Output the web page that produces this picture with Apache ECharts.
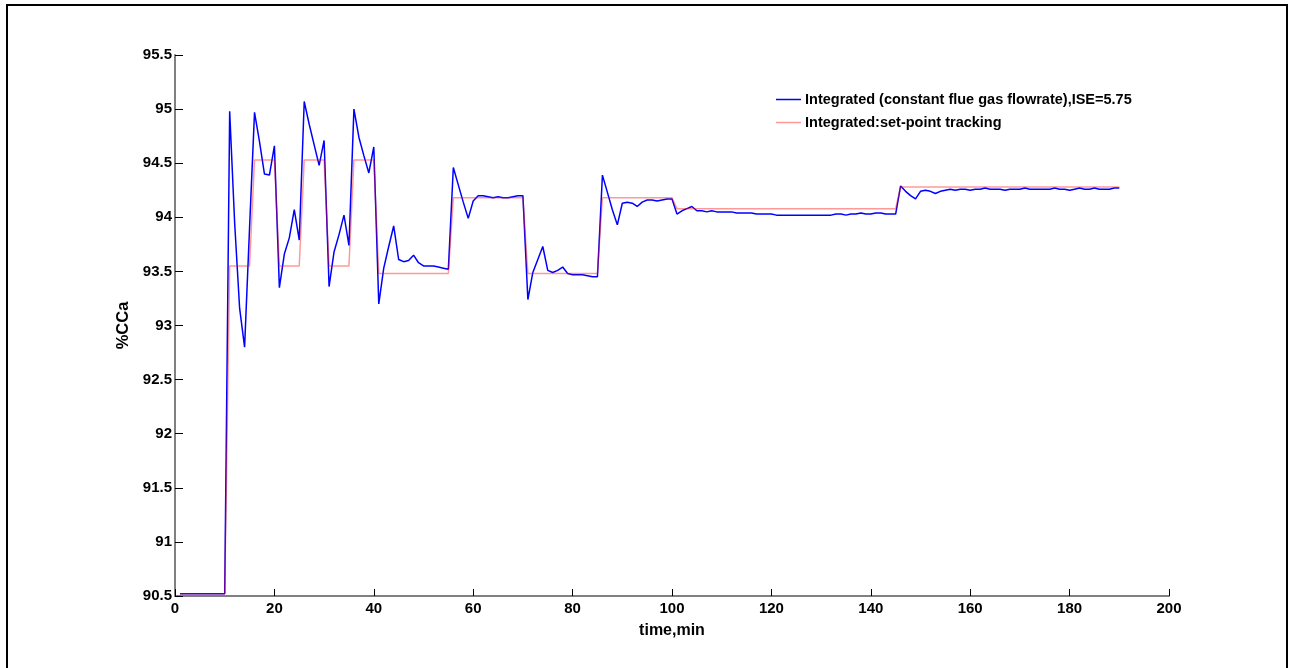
<!DOCTYPE html>
<html>
<head>
<meta charset="utf-8">
<script src="https://cdn.jsdelivr.net/npm/echarts@6/dist/echarts.min.js"></script>
<style>
html,body{margin:0;padding:0;background:#fff;}
#chart{width:1292px;height:668px;}
</style>
</head>
<body>
<div id="chart"></div>
<script>
// Measured %CCa, one sample per minute from t = 1 min
const integratedCCa = [
  90.52,90.52,90.52,90.52,90.52,90.52,90.52,90.52,90.52,90.52,
  94.98,93.95,93.16,92.80,93.90,94.97,94.70,94.40,94.39,94.66,
  93.35,93.66,93.81,94.07,93.79,95.07,94.86,94.67,94.48,94.71,
  93.36,93.68,93.84,94.02,93.74,95.00,94.74,94.57,94.41,94.65,
  93.20,93.53,93.73,93.92,93.61,93.59,93.60,93.65,93.58,93.55,
  93.55,93.55,93.54,93.53,93.52,94.46,94.30,94.14,93.99,94.15,
  94.20,94.20,94.19,94.18,94.19,94.18,94.18,94.19,94.20,94.20,
  93.24,93.49,93.61,93.73,93.51,93.49,93.51,93.54,93.48,93.47,
  93.47,93.47,93.46,93.45,93.45,94.39,94.23,94.07,93.93,94.13,
  94.14,94.13,94.10,94.14,94.16,94.16,94.15,94.16,94.17,94.17,
  94.03,94.06,94.08,94.10,94.06,94.06,94.05,94.06,94.05,94.05,
  94.05,94.05,94.04,94.04,94.04,94.04,94.03,94.03,94.03,94.03,
  94.02,94.02,94.02,94.02,94.02,94.02,94.02,94.02,94.02,94.02,
  94.02,94.02,94.03,94.03,94.02,94.03,94.03,94.04,94.03,94.03,
  94.04,94.04,94.03,94.03,94.03,94.29,94.24,94.20,94.17,94.24,
  94.25,94.24,94.22,94.24,94.25,94.26,94.25,94.26,94.26,94.25,
  94.26,94.26,94.27,94.26,94.26,94.26,94.25,94.26,94.26,94.26,
  94.27,94.26,94.26,94.26,94.26,94.26,94.27,94.26,94.26,94.25,
  94.26,94.27,94.26,94.26,94.27,94.26,94.26,94.26,94.27,94.27
];
// Set-point trajectory (breakpoints)
const setpointTime  = [1,10,11,15,16,20,21,25,26,30,31,35,36,40,41,55,56,70,71,85,86,100,101,145,146,190];
const setpointValue = [90.52,90.52,93.55,93.55,94.53,94.53,93.55,93.55,94.53,94.53,93.55,93.55,94.53,94.53,
                       93.48,93.48,94.18,94.18,93.48,93.48,94.18,94.18,94.08,94.08,94.28,94.28];
const seriesNames = ['Integrated (constant flue gas flowrate),ISE=5.75','Integrated:set-point tracking'];
const xTicks = {min:0, max:200, interval:20};
const yTicks = {min:90.5, max:95.5, interval:0.5};

const blueData = integratedCCa.map((v,i)=>[i+1, v]);
const redData = setpointTime.map((t,i)=>[t, setpointValue[i]]);

const FONT = 'Arial, "Liberation Sans", sans-serif';
const chart = echarts.init(document.getElementById('chart'), null, {renderer:'canvas'});
chart.setOption({
  animation:false,
  backgroundColor:'#ffffff',
  graphic:[{type:'rect', shape:{x:7, y:5, width:1280, height:720}, style:{fill:'none', stroke:'#000', lineWidth:2}, silent:true}],
  grid:{left:175, right:123, top:55, bottom:72, containLabel:false},
  legend:{
    orient:'vertical', left:771, top:87, itemWidth:25, itemHeight:1.5, itemGap:8,
    icon:'rect',
    textStyle:{fontFamily:FONT, fontWeight:'bold', fontSize:14.5, color:'#000', padding:[0,0,0,-1]},
    data:seriesNames
  },
  xAxis:{
    type:'value', min:xTicks.min, max:xTicks.max, interval:xTicks.interval,
    name:'time,min', nameLocation:'middle', nameGap:27,
    nameTextStyle:{fontFamily:FONT, fontWeight:'bold', fontSize:16, color:'#000'},
    axisLine:{show:true, onZero:false, lineStyle:{color:'#808080', width:2}},
    axisTick:{show:true, inside:true, length:7, lineStyle:{color:'#000', width:1}},
    axisLabel:{fontFamily:FONT, fontWeight:'bold', fontSize:15, color:'#000', margin:5},
    splitLine:{show:false}
  },
  yAxis:{
    type:'value', min:yTicks.min, max:yTicks.max, interval:yTicks.interval,
    name:'%CCa', nameLocation:'middle', nameGap:43, nameRotate:90,
    nameTextStyle:{fontFamily:FONT, fontWeight:'bold', fontSize:16.5, color:'#000'},
    axisLine:{show:true, onZero:false, lineStyle:{color:'#808080', width:2}},
    axisTick:{show:true, inside:true, length:8, lineStyle:{color:'#000', width:1}},
    axisLabel:{fontFamily:FONT, fontWeight:'bold', fontSize:15, color:'#000', margin:3},
    splitLine:{show:false}
  },
  series:[
    {name:seriesNames[0], type:'line', data:blueData, symbol:'none', color:'#0000ff',
     lineStyle:{color:'#0000ff', width:1.5}, z:2},
    {name:seriesNames[1], type:'line', data:redData, symbol:'none', color:'rgba(255,0,0,0.4)',
     lineStyle:{color:'rgba(255,0,0,0.4)', width:1.5}, z:3}
  ]
});
</script>
</body>
</html>
